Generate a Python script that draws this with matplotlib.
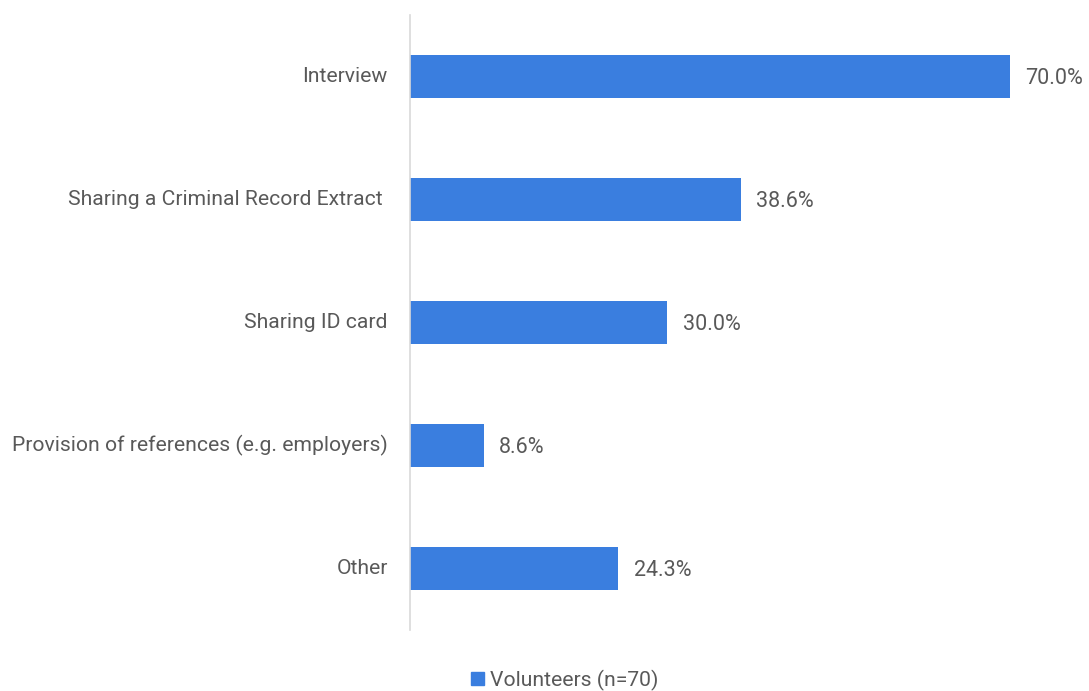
import matplotlib.pyplot as plt
from matplotlib.patches import Patch

categories = [
    "Interview",
    "Sharing a Criminal Record Extract ",
    "Sharing ID card",
    "Provision of references (e.g. employers)",
    "Other",
]
values = [70.0, 38.6, 30.0, 8.6, 24.3]
series_label = "Volunteers (n=70)"

BAR_COLOR = "#3A7EDF"
TEXT_COLOR = "#595959"
AXIS_COLOR = "#D9D9D9"

plt.rcParams["font.family"] = ["Roboto", "DejaVu Sans"]

fig = plt.figure(figsize=(10.89, 6.91), dpi=100)
ax = fig.add_axes([410 / 1089, 1 - 630 / 691, 650 / 1089, 615 / 691])

y = list(range(len(categories)))
ax.barh(y, values, height=0.35, color=BAR_COLOR, zorder=2)
ax.set_xlim(0, 70 * 650 / 600)
ax.set_ylim(len(categories) - 0.5, -0.5)

# value labels just right of each bar
for yi, v in zip(y, values):
    ax.text(v + 1.8, yi + 0.015, f"{v:.1f}%", va="center", ha="left",
            fontsize=15.5, color=TEXT_COLOR)

ax.set_yticks(y)
ax.set_yticklabels(categories, fontsize=15.2, color=TEXT_COLOR, va="center")
ax.tick_params(axis="y", length=0, pad=16)
ax.set_xticks([])
for side in ["top", "right", "bottom"]:
    ax.spines[side].set_visible(False)
ax.spines["left"].set_color(AXIS_COLOR)
ax.spines["left"].set_linewidth(1.2)

fig.legend(
    handles=[Patch(color=BAR_COLOR, label=series_label)],
    loc="center",
    bbox_to_anchor=(565 / 1089, 1 - 680 / 691),
    frameon=False,
    fontsize=15.2,
    labelcolor=TEXT_COLOR,
    handlelength=0.6,
    handleheight=0.6,
    handletextpad=0.3,
)

fig.savefig("out.png", dpi=100)
